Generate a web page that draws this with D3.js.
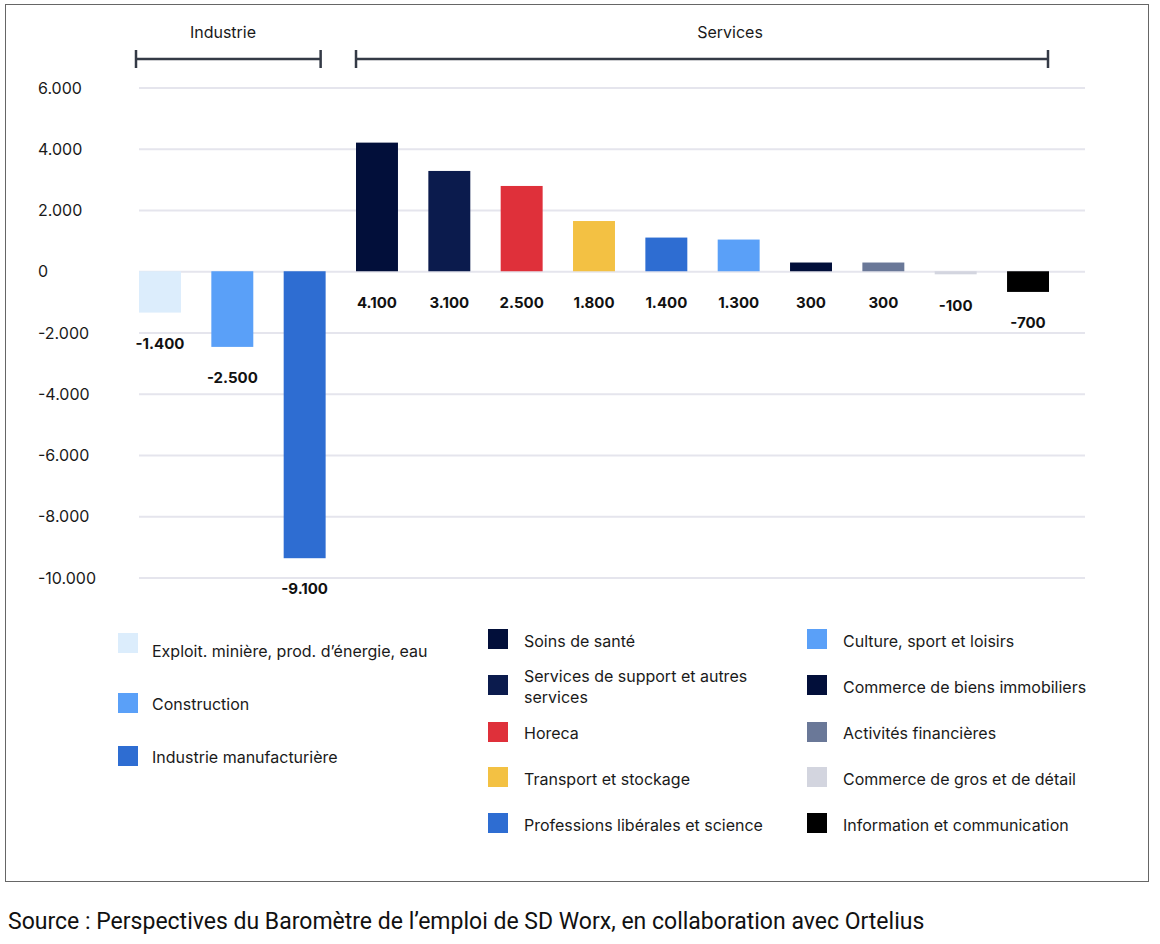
<!DOCTYPE html>
<html>
<head>
<meta charset="utf-8">
<script src="https://cdn.jsdelivr.net/npm/d3@7"></script>
<style>
  body { margin: 0; background: #fff; }
  svg text { font-family: Inter, "Noto Sans", sans-serif; }
</style>
</head>
<body>
<svg id="chart" width="1160" height="944"></svg>
<script>
// Sector names, in bar order
var sectors = [
  "Exploit. minière, prod. d’énergie, eau",
  "Construction",
  "Industrie manufacturière",
  "Soins de santé",
  "Services de support et autres services",
  "Horeca",
  "Transport et stockage",
  "Professions libérales et science",
  "Culture, sport et loisirs",
  "Commerce de biens immobiliers",
  "Activités financières",
  "Commerce de gros et de détail",
  "Information et communication"
];

// Bar heights as drawn in the picture
var barValues = [-1350, -2470, -9370, 4200, 3275, 2785, 1640, 1100, 1035, 285, 285, -100, -675];

// Printed value labels
var labelValues = [-1400, -2500, -9100, 4100, 3100, 2500, 1800, 1400, 1300, 300, 300, -100, -700];

// Group of each sector
var groups = ["Industrie", "Industrie", "Industrie",
  "Services", "Services", "Services", "Services", "Services",
  "Services", "Services", "Services", "Services", "Services"];

var groupNames = ["Industrie", "Services"];

var barColors = ["#dcedfc", "#5aa0f8", "#2e6dd2", "#020f3a", "#0b1b4d", "#df303a",
  "#f3c143", "#2e6dd2", "#5aa0f8", "#020f3a", "#6a7898", "#d3d5df", "#000000"];

var yTicks = [6000, 4000, 2000, 0, -2000, -4000, -6000, -8000, -10000];

var sourceText = "Source : Perspectives du Baromètre de l’emploi de SD Worx, en collaboration avec Ortelius";

// number format with dot as thousands separator
var fmt = d3.formatLocale({decimal: ",", thousands: ".", grouping: [3], currency: ["", "€"], minus: "-"}).format(",d");

var svg = d3.select("#chart");

// outer frame
svg.append("rect")
  .attr("x", 5.5).attr("y", 4.5)
  .attr("width", 1143).attr("height", 877)
  .attr("fill", "none")
  .attr("stroke", "#666")
  .attr("stroke-width", 1);

var gridLeft = 139, gridRight = 1085;

var x = d3.scaleBand()
  .domain(d3.range(sectors.length))
  .range([139, 1049])
  .paddingInner(0.42)
  .paddingOuter(0);

var y = d3.scaleLinear().domain([-10000, 6000]).range([577.5, 87.5]);

// y axis with grid lines
var yAxis = svg.append("g")
  .attr("transform", "translate(" + gridLeft + ",0)")
  .call(d3.axisLeft(y).tickValues(yTicks).tickFormat(fmt).tickSize(-(gridRight - gridLeft)).tickPadding(0));

yAxis.select(".domain").remove();
yAxis.selectAll(".tick line")
  .attr("stroke", "#e5e5ed")
  .attr("stroke-width", 2);
yAxis.selectAll(".tick text")
  .attr("x", 38 - gridLeft)
  .attr("dy", "0.35em")
  .attr("text-anchor", "start")
  .attr("fill", "#1a1a1a")
  .style("font-size", "16px");

// bars
svg.append("g").selectAll("rect")
  .data(barValues)
  .enter().append("rect")
    .attr("x", function(d, i) { return x(i); })
    .attr("y", function(d) { return y(Math.max(0, d)); })
    .attr("width", x.bandwidth())
    .attr("height", function(d) { return Math.abs(y(d) - y(0)); })
    .attr("fill", function(d, i) { return barColors[i]; });

// value labels
svg.append("g").selectAll("text")
  .data(labelValues)
  .enter().append("text")
    .attr("x", function(d, i) { return x(i) + x.bandwidth() / 2; })
    .attr("y", function(d, i) { return Math.max(y(0), y(barValues[i])) + 31; })
    .attr("dy", "0.35em")
    .attr("text-anchor", "middle")
    .attr("fill", "#111")
    .style("font-size", "15px")
    .style("font-weight", "700")
    .text(function(d) { return fmt(d); });

// group brackets (label centres are not on the bracket centre in the original)
var groupLabelX = {"Industrie": 223, "Services": 730};
groupNames.forEach(function(g) {
  var idx = d3.range(sectors.length).filter(function(i) { return groups[i] === g; });
  var x0 = x(idx[0]) - (g === "Industrie" ? 3 : 0);
  var x1 = x(idx[idx.length - 1]) + x.bandwidth() - (g === "Industrie" ? 5 : 1);
  var by = 59;
  var b = svg.append("g").attr("stroke", "#343a46").attr("stroke-width", 2.5);
  b.append("line").attr("x1", x0).attr("x2", x1).attr("y1", by).attr("y2", by);
  b.append("line").attr("x1", x0).attr("x2", x0).attr("y1", by - 9).attr("y2", by + 9);
  b.append("line").attr("x1", x1).attr("x2", x1).attr("y1", by - 9).attr("y2", by + 9);
  svg.append("text")
    .attr("x", groupLabelX[g])
    .attr("y", 32)
    .attr("dy", "0.35em")
    .attr("text-anchor", "middle")
    .attr("fill", "#1a1a1a")
    .style("font-size", "16px")
    .text(g);
});

// legend layout: column / square top / text centre
var legendCols = [
  {sx: 118, tx: 152, items: [0, 1, 2], sq: [633, 693, 746], tc: [651, 704, 757]},
  {sx: 488, tx: 524, items: [3, 4, 5, 6, 7], sq: [629, 675, 722, 767, 813], tc: [641, 687, 733, 779, 825]},
  {sx: 807, tx: 843, items: [8, 9, 10, 11, 12], sq: [629, 675, 722, 767, 813], tc: [641, 687, 733, 779, 825]}
];

var wrapWidth = 245;
var legend = svg.append("g");
legendCols.forEach(function(col, c) {
  col.items.forEach(function(i, k) {
    legend.append("rect")
      .attr("x", col.sx).attr("y", col.sq[k])
      .attr("width", 20).attr("height", 20)
      .attr("fill", barColors[i]);
    var t = legend.append("text")
      .attr("x", col.tx)
      .attr("y", col.tc[k])
      .attr("dy", "0.35em")
      .attr("fill", "#1a1a1a")
      .style("font-size", "16px")
      .text(sectors[i]);
    // wrap long labels of the middle column
    if (c === 1 && t.node().getComputedTextLength() > wrapWidth) {
      var words = sectors[i].split(" ");
      t.text(null);
      var line = [], lines = [];
      var probe = legend.append("text").style("font-size", "16px");
      words.forEach(function(w) {
        line.push(w);
        probe.text(line.join(" "));
        if (probe.node().getComputedTextLength() > wrapWidth && line.length > 1) {
          line.pop();
          lines.push(line.join(" "));
          line = [w];
        }
      });
      lines.push(line.join(" "));
      probe.remove();
      var lh = 20.5;
      lines.forEach(function(l, j) {
        t.append("tspan")
          .attr("x", col.tx)
          .attr("y", col.tc[k] - (lines.length - 1) * lh / 2 + j * lh)
          .attr("dy", "0.35em")
          .text(l);
      });
    }
  });
});

// source note
svg.append("text")
  .attr("x", 8)
  .attr("y", 921)
  .attr("dy", "0.35em")
  .attr("fill", "#111")
  .style("font-family", "Roboto, sans-serif")
  .style("font-size", "23px")
  .text(sourceText);
</script>
</body>
</html>
